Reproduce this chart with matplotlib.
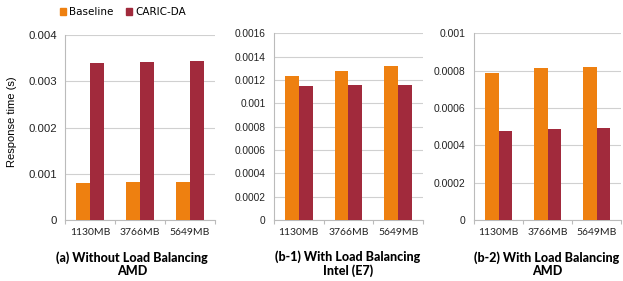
import matplotlib
matplotlib.use("Agg")
import matplotlib.pyplot as plt
from matplotlib.patches import Patch
import numpy as np

categories = ["1130MB", "3766MB", "5649MB"]
series_names = ["Baseline", "CARIC-DA"]

a_baseline = [0.00079, 0.00082, 0.00083]
a_caric = [0.00339, 0.00341, 0.00343]
b1_baseline = [0.001237, 0.00128, 0.00132]
b1_caric = [0.00115, 0.00116, 0.00116]
b2_baseline = [0.000787, 0.000816, 0.00082]
b2_caric = [0.000479, 0.000487, 0.000493]

a_ticks = [0, 0.001, 0.002, 0.003, 0.004]
a_ticklabels = ["0", "0.001", "0.002", "0.003", "0.004"]
b1_ticks = [0, 0.0002, 0.0004, 0.0006, 0.0008, 0.001, 0.0012, 0.0014, 0.0016]
b1_ticklabels = ["0", "0.0002", "0.0004", "0.0006", "0.0008", "0.001", "0.0012", "0.0014", "0.0016"]
b2_ticks = [0, 0.0002, 0.0004, 0.0006, 0.0008, 0.001]
b2_ticklabels = ["0", "0.0002", "0.0004", "0.0006", "0.0008", "0.001"]

titles = ["(a) Without Load Balancing\nAMD",
          "(b-1) With Load Balancing\nIntel (E7)",
          "(b-2) With Load Balancing\nAMD"]

c_base = "#EE8010"
c_caric = "#A12A3C"
grid_c = "#D0D0D0"

W, H = 623, 281
fig = plt.figure(figsize=(W / 100, H / 100), dpi=100)

def box(l, r, t, b):
    return [l / W, 1 - b / H, (r - l) / W, (b - t) / H]

panels = [
    (box(65, 215, 35, 220), a_baseline, a_caric, a_ticks, a_ticklabels, titles[0], 8.2, 132),
    (box(274, 423, 33.3, 220), b1_baseline, b1_caric, b1_ticks, b1_ticklabels, titles[1], 7.3, 348),
    (box(474, 621, 33.3, 220), b2_baseline, b2_caric, b2_ticks, b2_ticklabels, titles[2], 7.5, 547),
]

bw = 0.28
x = np.arange(len(categories))
axes = []
for rect, base, car, ticks, tlabels, title, yfs, tx in panels:
    ax = fig.add_axes(rect)
    axes.append(ax)
    ax.bar(x - bw / 2, base, width=bw, color=c_base, zorder=3)
    ax.bar(x + bw / 2, car, width=bw, color=c_caric, zorder=3)
    ax.set_xlim(-0.5, len(categories) - 0.5)
    ax.set_ylim(ticks[0], ticks[-1])
    ax.set_yticks(ticks)
    ax.set_yticklabels(tlabels, fontsize=yfs, family="Liberation Sans", color="#222222")
    ax.yaxis.grid(True, color=grid_c, linewidth=0.8, zorder=0)
    ax.tick_params(axis="y", length=0, pad=6)
    ax.set_xticks(x)
    ax.set_xticklabels(categories, fontsize=7.5, family="Lato", color="#222222")
    ax.set_xticks(np.arange(-0.5, len(categories) + 0.5, 1), minor=True)
    ax.tick_params(axis="x", which="major", length=0, pad=6)
    ax.tick_params(axis="x", which="minor", length=3, color="#BBBBBB", width=0.8)
    for s in ["top", "right"]:
        ax.spines[s].set_visible(False)
    ax.spines["left"].set_color("#BBBBBB")
    ax.spines["bottom"].set_color("#BBBBBB")
    ax.spines["left"].set_linewidth(0.8)
    ax.spines["bottom"].set_linewidth(0.8)
    fig.text(tx / W, 1 - 264 / H, title, ha="center", va="center", fontsize=9,
             fontweight="black", family="Lato", linespacing=1.15)

fig.text(12 / W, 1 - 122 / H, "Response time (s)", rotation=90, ha="center", va="center",
         fontsize=8, family="Liberation Sans")

handles = [Patch(color=c_base, label=series_names[0]), Patch(color=c_caric, label=series_names[1])]
fig.legend(handles=handles, loc="center", bbox_to_anchor=(123 / W, 1 - 12 / H), ncol=2,
           frameon=False, fontsize=7.5, handlelength=0.6, handleheight=0.6,
           handletextpad=0.3, columnspacing=1.2, borderpad=0, borderaxespad=0)

fig.savefig("out.png", dpi=100)
